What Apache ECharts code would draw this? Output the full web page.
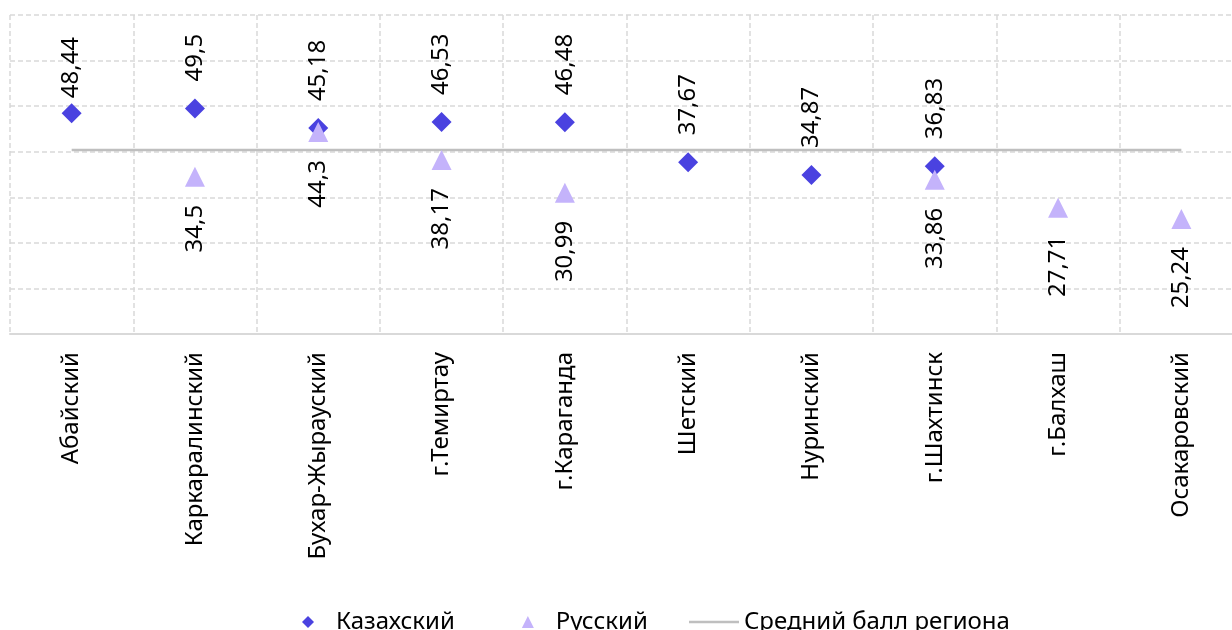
<!DOCTYPE html>
<html><head><meta charset="utf-8">
<script src="https://cdn.jsdelivr.net/npm/echarts@6/dist/echarts.min.js"></script>
<style>html,body{margin:0;padding:0;background:#fff}#c{width:1232px;height:630px}</style>
</head><body><div id="c"></div>
<script>
const categories = ['Абайский','Каркаралинский','Бухар-Жырауский','г.Темиртау','г.Караганда','Шетский','Нуринский','г.Шахтинск','г.Балхаш','Осакаровский'];
const kazakh = [48.44, 49.5, 45.18, 46.53, 46.48, 37.67, 34.87, 36.83, null, null];
const russian = [null, 34.5, 44.3, 38.17, 30.99, null, null, 33.86, 27.71, 25.24];
const regionAvg = [40.35, 40.35, 40.35, 40.35, 40.35, 40.35, 40.35, 40.35, 40.35, 40.35];
const yTicks = {min: 0, max: 70, interval: 10};

const FONT = 'Noto Sans';
const FS = 24;
const TXT = '#000';
const fmt = p => (p.value == null ? '' : String(p.value).replace('.', ','));
const gridLine = {show: true, lineStyle: {color: '#d9d9d9', width: 1.5, type: [5, 3]}};

const chart = echarts.init(document.getElementById('c'), null, {renderer: 'canvas'});
chart.setOption({
  animation: false,
  textStyle: {fontFamily: FONT},
  grid: {left: 10, width: 1233, top: 15, bottom: 296, containLabel: false, outerBoundsMode: 'none'},
  legend: [
    {
      left: 297, top: 605,
      itemWidth: 12, itemHeight: 12, itemGap: 67,
      textStyle: {fontFamily: FONT, fontSize: FS, color: TXT, padding: [0, 0, 0, 17]},
      data: [
        {name: 'Казахский', icon: 'diamond'},
        {name: 'Русский', icon: 'triangle'}
      ]
    },
    {
      left: 684, top: 605,
      itemWidth: 50, itemHeight: 2.5,
      textStyle: {fontFamily: FONT, fontSize: FS, color: TXT},
      data: [{name: 'Средний балл региона', icon: 'rect', itemStyle: {color: '#bfbfbf'}}]
    }
  ],
  xAxis: {
    type: 'category', data: categories, boundaryGap: true,
    axisLine: {show: true, lineStyle: {color: '#d9d9d9', width: 2}},
    axisTick: {show: false},
    splitLine: Object.assign({interval: 0}, gridLine),
    axisLabel: {interval: 0, rotate: 90, margin: 18, fontFamily: FONT, fontSize: FS, color: TXT}
  },
  yAxis: {
    type: 'value', min: yTicks.min, max: yTicks.max, interval: yTicks.interval,
    axisLabel: {show: false}, axisLine: {show: false}, axisTick: {show: false},
    splitLine: gridLine
  },
  series: [
    {
      name: 'Средний балл региона', type: 'line', data: regionAvg,
      symbol: 'none', z: 1,
      lineStyle: {color: '#bfbfbf', width: 2.5},
      itemStyle: {color: '#bfbfbf'}
    },
    {
      name: 'Казахский', type: 'scatter', symbol: 'diamond', symbolSize: 20, z: 3,
      itemStyle: {color: '#4a42e0', opacity: 1},
      data: kazakh.map((v, i) => i === 0 ? {value: v, label: {distance: 5}} : v),
      label: {show: true, position: 'top', distance: 17, rotate: 90, align: 'left', verticalAlign: 'middle',
              fontFamily: FONT, fontSize: FS, color: TXT, formatter: fmt}
    },
    {
      name: 'Русский', type: 'scatter', symbol: 'triangle', symbolSize: [20, 20], z: 4,
      itemStyle: {color: '#c4b3fb', opacity: 1},
      data: russian,
      label: {show: true, position: 'bottom', distance: 18, rotate: 90, align: 'right', verticalAlign: 'middle',
              fontFamily: FONT, fontSize: FS, color: TXT, formatter: fmt}
    }
  ]
});
</script></body></html>
